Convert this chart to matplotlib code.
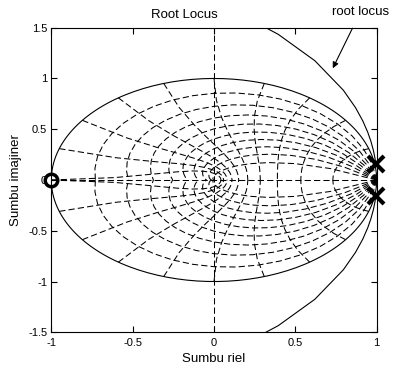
import numpy as np
import matplotlib.pyplot as plt

plt.rcParams['font.family'] = ['Liberation Sans', 'DejaVu Sans']
plt.rcParams['font.size'] = 9.5
plt.rcParams['axes.unicode_minus'] = False

# open-loop poles / zero of the system
poles = [0.995 + 0.155j, 0.995 - 0.155j]
zeros = [-1.0]
# gains at which the locus was evaluated
gains = [0, 0.01, 0.03, 0.06, 0.1, 0.16, 0.25, 0.4, 0.75, 1.2, 1.6]

# zgrid settings
zetas = [0.1, 0.2, 0.3, 0.4, 0.5, 0.6, 0.7, 0.8, 0.9]
wns = [0.1, 0.2, 0.3, 0.4, 0.5, 0.6, 0.7, 0.8, 0.9, 1.0]  # times pi

xticks = [-1, -0.5, 0, 0.5, 1]
yticks = [-1.5, -1, -0.5, 0, 0.5, 1, 1.5]

fig = plt.figure(figsize=(3.98, 3.68), dpi=100)
ax = fig.add_axes([51.3/398, 1-332.3/368, 325.4/398, 304.6/368])

dash = (0, (6, 3))

# damping ratio lines
theta = np.arange(21) * np.pi / 20
for zeta in zetas:
    m = np.tan(np.arcsin(zeta))
    zz = np.exp(theta * (-m + 1j))
    ax.plot(zz.real, zz.imag, color='k', lw=0.75, ls=dash)
    ax.plot(zz.real, -zz.imag, color='k', lw=0.75, ls=dash)

# natural frequency lines
phi = np.pi/2 + np.arange(11) * np.pi / 20
for wn in wns:
    zz = np.exp(wn * np.pi * np.exp(1j * phi))
    ax.plot(zz.real, zz.imag, color='k', lw=0.75, ls=dash)
    ax.plot(zz.real, -zz.imag, color='k', lw=0.75, ls=dash)

# axis lines
ax.axhline(0, color='k', lw=0.75, ls=dash)
ax.axvline(0, color='k', lw=0.75, ls=dash)

# unit circle
t = np.linspace(0, 2*np.pi, 200)
ax.plot(np.cos(t), np.sin(t), color='k', lw=0.8)

# root locus branches
den = np.poly(poles)
num = np.poly(zeros)
br1, br2 = [], []
for k in gains:
    r = np.roots(np.polyadd(den, k * num))
    r = sorted(r, key=lambda z: -z.imag)
    br1.append(r[0])
    br2.append(r[1])
br1 = np.array(br1)
br2 = np.array(br2)
ax.plot(br1.real, br1.imag, color='k', lw=0.8)
ax.plot(br2.real, br2.imag, color='k', lw=0.8)

ax.plot(np.real(poles), np.imag(poles), 'x', color='k', ms=11, mew=3, clip_on=False)
ax.plot(np.real(zeros), np.imag(zeros), 'o', color='k', mfc='none', ms=9, mew=2.5, clip_on=False)

ax.annotate('root locus', xy=(0.73, 1.10), xytext=(0.90, 1.655),
            ha='center', va='center', annotation_clip=False,
            arrowprops=dict(arrowstyle='-|>', color='k', lw=0.8,
                            mutation_scale=9, shrinkA=6, shrinkB=0))

ax.set_xlim(-1, 1)
ax.set_ylim(-1.5, 1.5)
ax.set_xticks(xticks)
ax.set_yticks(yticks)
ax.set_xticklabels([('%g' % v) for v in xticks])
ax.set_yticklabels([('%g' % v) for v in yticks])
ax.tick_params(direction='in', top=True, right=True, length=4, width=0.8, labelsize=8)
ax.tick_params(axis='x', pad=4)
ax.tick_params(axis='y', pad=3)
for s in ax.spines.values():
    s.set_linewidth(0.8)

ax.set_title('Root Locus', fontsize=9.5, x=0.408, pad=6.8)
ax.set_xlabel('Sumbu riel', labelpad=4)
ax.set_ylabel('Sumbu imajiner', labelpad=4)

plt.savefig('out.png', dpi=100)
